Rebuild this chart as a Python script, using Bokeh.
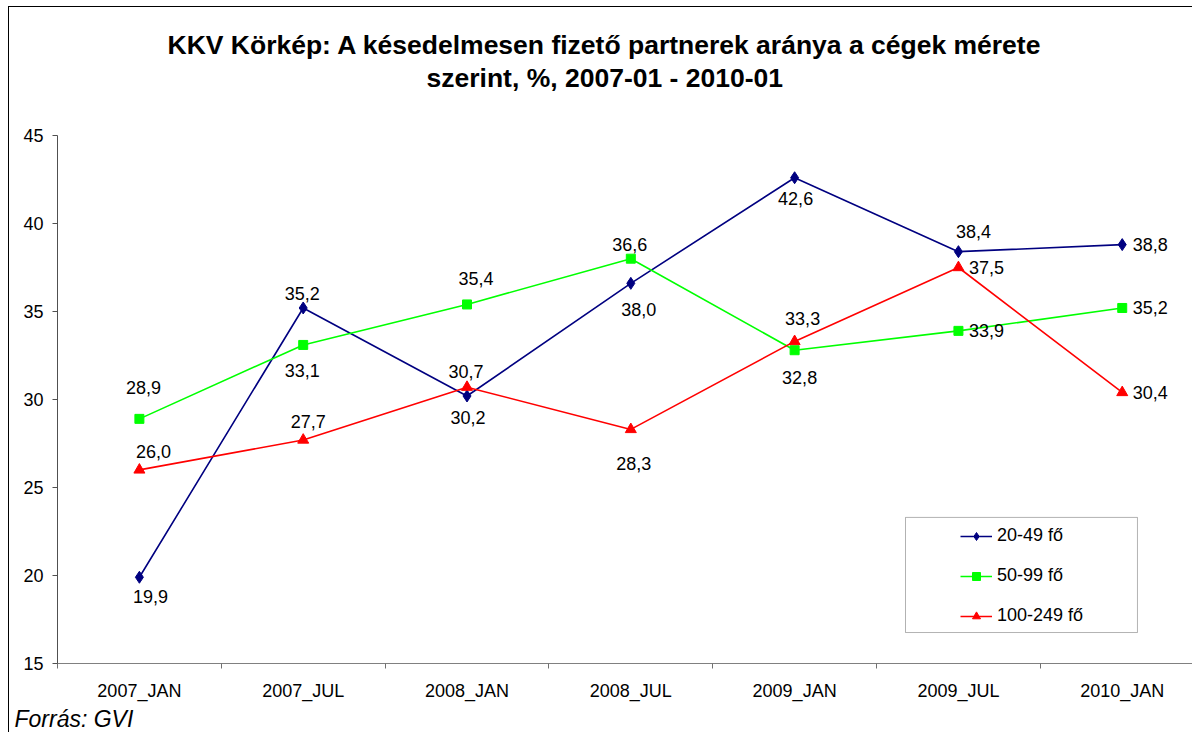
from bokeh.plotting import figure
from bokeh.models import (ColumnDataSource, FixedTicker, Legend, LegendItem,
                          BoxAnnotation, Title, Range1d)
from bokeh.core.properties import value
from bokeh.embed import file_html
from bokeh.resources import INLINE

# ---- data ----
categories = ["2007_JAN", "2007_JUL", "2008_JAN", "2008_JUL", "2009_JAN", "2009_JUL", "2010_JAN"]
s_20_49 = [19.9, 35.2, 30.2, 36.6, 42.6, 38.4, 38.8]
s_50_99 = [28.9, 33.1, 35.4, 38.0, 32.8, 33.9, 35.2]
s_100_249 = [26.0, 27.7, 30.7, 28.3, 33.3, 37.5, 30.4]
series_names = ["20-49 fő", "50-99 fő", "100-249 fő"]
y_ticks = [15, 20, 25, 30, 35, 40, 45]
title_lines = ["KKV Körkép: A késedelmesen fizető partnerek aránya a cégek mérete",
               "szerint, %, 2007-01 - 2010-01"]
source_note = "Forrás: GVI"

# ---- label placement (screen px offsets, +y = down) ----
dx_20_49 = [11, -1, 1, -1, 1, 15, 28]
dy_20_49 = [19, -14, 22, -39, 21, -20, 0]
dx_50_99 = [4, -1, 9, 8, 5, 28, 28]
dy_50_99 = [-31, 26, -26, 51, 27, 0, 0]
dx_100_249 = [14, 5, -1, 3, 8, 28, 28]
dy_100_249 = [-18, -18, -16, 34, -23, 0, 0]

FONT = "Liberation Sans"
xpos = [i + 0.5 for i in range(len(categories))]

p = figure(width=1192, height=732, output_backend="svg", toolbar_location=None,
           x_range=Range1d(0, 6.929), y_range=Range1d(15, 45),
           min_border_left=57, min_border_right=0, min_border_top=135,
           min_border_bottom=69)
p.background_fill_color = "white"
p.border_fill_alpha = 0
p.outline_line_color = None
p.grid.visible = False
p.styles = {"background": "linear-gradient(#000000, #000000) 8px 6px / 1px calc(100% - 6px) no-repeat, "
                          "linear-gradient(#000000, #000000) 8px 6px / calc(100% - 8px) 1px no-repeat, #ffffff"}

# axes
xa = p.xaxis[0]
xa.ticker = FixedTicker(ticks=xpos, minor_ticks=list(range(len(categories) + 1)))
xa.major_label_overrides = {x: c for x, c in zip(xpos, categories)}
xa.major_tick_out = 0
xa.major_tick_in = 0
xa.minor_tick_out = 5
xa.minor_tick_in = 0
xa.minor_tick_line_color = "#707070"
xa.axis_line_color = "#808080"
xa.major_label_text_font = FONT
xa.major_label_text_font_size = "18px"
xa.major_label_text_color = "black"
xa.major_label_standoff = 12

ya = p.yaxis[0]
ya.ticker = FixedTicker(ticks=y_ticks, minor_ticks=[])
ya.major_tick_out = 5
ya.major_tick_in = 0
ya.major_tick_line_color = "#505050"
ya.axis_line_color = "#505050"
ya.major_label_text_font = FONT
ya.major_label_text_font_size = "18px"
ya.major_label_text_color = "black"
ya.major_label_standoff = 9

colors = ["#000080", "#00FF00", "#FF0000"]
markers = ["diamond", "square", "triangle"]
msizes = [12, 9, 11]
all_vals = [s_20_49, s_50_99, s_100_249]
all_dx = [dx_20_49, dx_50_99, dx_100_249]
all_dy = [dy_20_49, dy_50_99, dy_100_249]

items = []
for i, (name, vals, col) in enumerate(zip(series_names, all_vals, colors)):
    src = ColumnDataSource(dict(x=xpos, y=vals,
                                lab=[f"{v:.1f}".replace(".", ",") for v in vals],
                                dx=all_dx[i], dy=all_dy[i]))
    ln = p.line("x", "y", source=src, line_color=col, line_width=1.6)
    sc = p.scatter("x", "y", source=src, marker=markers[i], size=msizes[i],
                   fill_color=col, line_color=col)
    p.text("x", "y", text="lab", source=src, x_offset="dx", y_offset="dy",
           text_align="center", text_baseline="middle", text_font=value(FONT),
           text_font_size="18px", text_color="black")
    items.append(LegendItem(label=name, renderers=[ln, sc]))

# legend frame
box = BoxAnnotation(left=5.177, right=6.593, bottom=16.76, top=23.30,
                    fill_color="white", fill_alpha=1.0, line_color="black", line_width=1)
p.add_layout(box)

legend = Legend(items=items, location=(903, 37), orientation="vertical",
                padding=0, margin=0, spacing=19, glyph_width=32, glyph_height=20,
                label_height=20, label_standoff=5, border_line_color=None,
                background_fill_alpha=0, label_text_font=FONT,
                label_text_font_size="18px", label_text_color="black")
p.add_layout(legend)

# titles: spacer (innermost), line 2, line 1 (outermost)
p.add_layout(Title(text=" ", text_font_size="1px", standoff=39), "above")
for txt, off in [(title_lines[1], 369), (title_lines[0], 110)]:
    p.add_layout(Title(text=txt, align="left", offset=off, standoff=1, text_font=FONT,
                       text_font_size="26.5px", text_font_style="bold",
                       text_color="black"), "above")

p.add_layout(Title(text=source_note, align="left", offset=-43, standoff=1, text_font=FONT,
                   text_font_size="23px", text_font_style="italic",
                   text_color="black"), "below")

open("out.html", "w").write(file_html(p, INLINE))
